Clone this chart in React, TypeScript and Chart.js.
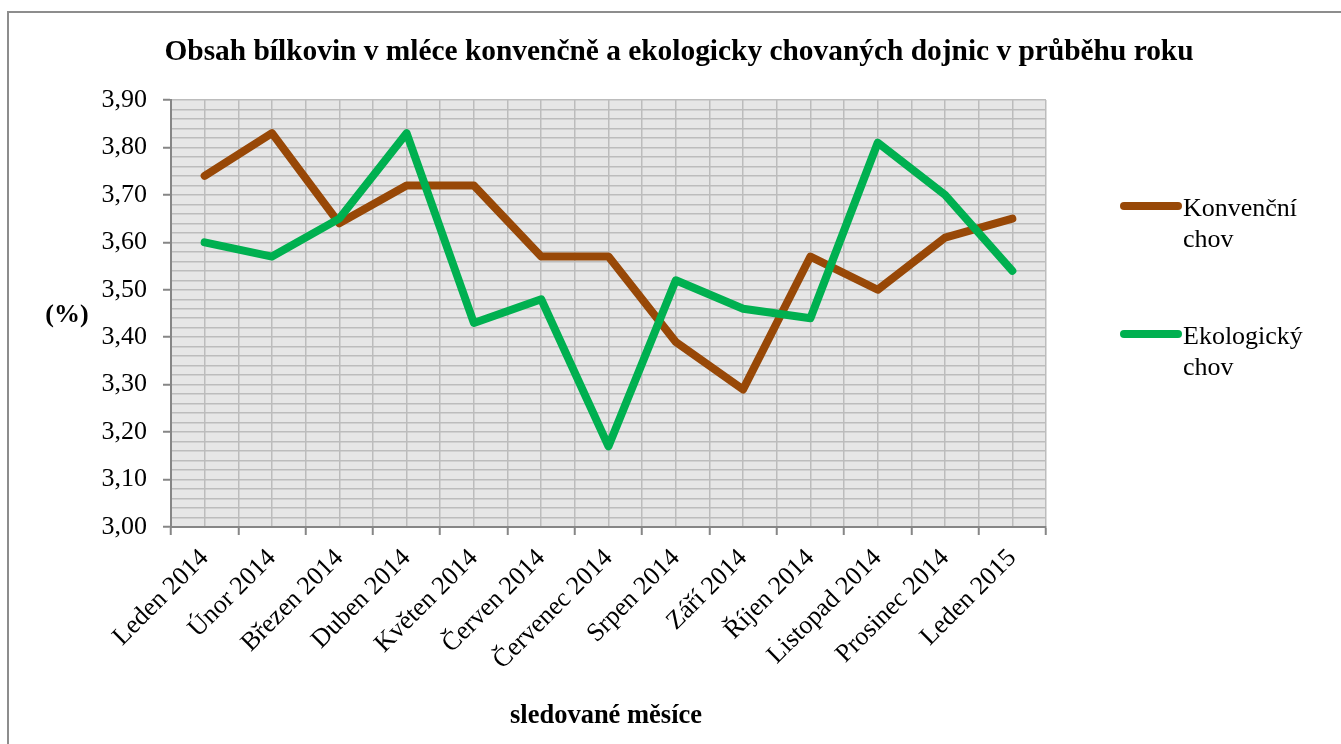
import React, { useEffect, useRef } from 'react';
import { Chart, registerables } from 'chart.js';

Chart.register(...registerables);

const TITLE = 'Obsah bílkovin v mléce konvenčně a ekologicky chovaných dojnic v průběhu roku';
const X_TITLE = 'sledované měsíce';
const Y_TITLE = '(%)';

const months = [
  'Leden 2014', 'Únor 2014', 'Březen 2014', 'Duben 2014', 'Květen 2014', 'Červen 2014',
  'Červenec 2014', 'Srpen 2014', 'Září 2014', 'Říjen 2014', 'Listopad 2014', 'Prosinec 2014', 'Leden 2015',
];
const konvencni = [3.74, 3.83, 3.64, 3.72, 3.72, 3.57, 3.57, 3.39, 3.29, 3.57, 3.5, 3.61, 3.65];
const ekologicky = [3.6, 3.57, 3.65, 3.83, 3.43, 3.48, 3.17, 3.52, 3.46, 3.44, 3.81, 3.7, 3.54];
const seriesNames = ['Konvenční chov', 'Ekologický chov'];
const seriesColors = ['#984807', '#00B050'];

const Y_MIN = 3.0;
const Y_MAX = 3.9;
const Y_MINOR_STEPS = 45; // 0,02 between minor grid lines

const FONT = '"Liberation Serif", "Times New Roman", serif';
const GRID = '#bcbcbc';
const AXIS = '#868686';
const PLOT_BG = '#e6e6e6';
const LINE_WIDTH = 8;

// grid/tick positions: half-category steps on x, 0,02 steps on y
const xTicks: number[] = [];
for (let i = 0; i <= months.length * 2; i++) xTicks.push(i / 2 - 0.5);
const yTicks: number[] = [];
for (let i = 0; i <= Y_MINOR_STEPS; i++) yTicks.push(Math.round((Y_MIN + (i * (Y_MAX - Y_MIN)) / Y_MINOR_STEPS) * 100) / 100);

const isMajorY = (v: number) => Math.abs(v * 10 - Math.round(v * 10)) < 1e-6;
const isCategory = (v: number) => Math.abs(v - Math.round(v)) < 1e-6;

const plotBackground = {
  id: 'plotBackground',
  beforeDraw(chart: any) {
    const { ctx, chartArea } = chart;
    ctx.save();
    ctx.fillStyle = PLOT_BG;
    ctx.fillRect(chartArea.left, chartArea.top, chartArea.right - chartArea.left, chartArea.bottom - chartArea.top);
    ctx.restore();
  },
};

const chartTexts = {
  id: 'chartTexts',
  afterDraw(chart: any) {
    const { ctx } = chart;
    ctx.save();
    ctx.fillStyle = '#000';
    ctx.textBaseline = 'alphabetic';
    ctx.textAlign = 'center';

    // title
    ctx.font = `bold 29.4px ${FONT}`;
    ctx.fillText(TITLE, 679, 60);

    // axis titles
    ctx.font = `bold 26.5px ${FONT}`;
    ctx.fillText(X_TITLE, 606, 723);
    ctx.font = `bold 26px ${FONT}`;
    ctx.fillText(Y_TITLE, 67, 322);

    // legend
    ctx.textAlign = 'left';
    ctx.font = `26px ${FONT}`;
    const rows = [206, 334];
    chart.data.datasets.forEach((ds: any, i: number) => {
      const y = rows[i];
      ctx.strokeStyle = ds.borderColor;
      ctx.lineWidth = LINE_WIDTH;
      ctx.lineCap = 'round';
      ctx.beginPath();
      ctx.moveTo(1124, y);
      ctx.lineTo(1178, y);
      ctx.stroke();
      const words = String(ds.label).split(' ');
      words.forEach((w: string, j: number) => ctx.fillText(w, 1183, y + 10 + j * 30.5));
    });
    ctx.restore();
  },
};

export default function App() {
  const canvasRef = useRef<HTMLCanvasElement | null>(null);

  useEffect(() => {
    const canvas = canvasRef.current;
    if (!canvas) return;
    const series = [konvencni, ekologicky];
    const chart = new Chart(canvas, {
      type: 'line',
      data: {
        datasets: series.map((values, s) => ({
          label: seriesNames[s],
          data: values.map((y, x) => ({ x, y })),
          borderColor: seriesColors[s],
          backgroundColor: seriesColors[s],
          borderWidth: LINE_WIDTH,
          borderCapStyle: 'round',
          borderJoinStyle: 'round',
          pointRadius: 0,
          tension: 0,
          fill: false,
          order: s === 0 ? 1 : 0,
        })),
      },
      options: {
        responsive: false,
        animation: false,
        devicePixelRatio: 1,
        layout: { padding: { left: 0, top: 100, right: 295, bottom: 0 } },
        plugins: {
          legend: { display: false },
          title: { display: false },
          tooltip: { enabled: false },
        },
        scales: {
          x: {
            type: 'linear',
            bounds: 'data',
            min: -0.5,
            max: 12.5,
            afterBuildTicks: (scale: any) => {
              scale.ticks = xTicks.map((value) => ({ value }));
            },
            afterFit: (scale: any) => {
              scale.height = 217;
            },
            ticks: {
              autoSkip: false,
              minRotation: 45,
              maxRotation: 45,
              padding: 8,
              color: '#000',
              font: { family: FONT, size: 26 },
              callback: (v: any) => (isCategory(Number(v)) ? months[Math.round(Number(v))] : ''),
            },
            grid: {
              color: (ctx: any) => (ctx.tick && Math.abs(ctx.tick.value + 0.5) < 1e-6 ? 'rgba(0,0,0,0)' : GRID),
              lineWidth: 1.5,
              tickLength: 8,
              tickWidth: 2,
              tickColor: (ctx: any) => (ctx.tick && isCategory(ctx.tick.value) ? 'rgba(0,0,0,0)' : AXIS),
            },
            border: { color: AXIS, width: 2 },
          },
          y: {
            type: 'linear',
            bounds: 'data',
            min: Y_MIN,
            max: Y_MAX,
            afterBuildTicks: (scale: any) => {
              scale.ticks = yTicks.map((value) => ({ value }));
            },
            afterFit: (scale: any) => {
              scale.width = 171;
            },
            ticks: {
              autoSkip: false,
              padding: 16,
              color: '#000',
              font: { family: FONT, size: 26 },
              callback: (v: any) => (isMajorY(Number(v)) ? Number(v).toFixed(2).replace('.', ',') : ''),
            },
            grid: {
              color: (ctx: any) => (ctx.tick && Math.abs(ctx.tick.value - Y_MIN) < 1e-6 ? 'rgba(0,0,0,0)' : GRID),
              lineWidth: 1.5,
              tickLength: 8,
              tickWidth: 2,
              tickColor: (ctx: any) => (ctx.tick && isMajorY(ctx.tick.value) ? AXIS : 'rgba(0,0,0,0)'),
            },
            border: { color: AXIS, width: 2 },
          },
        },
      } as any,
      plugins: [plotBackground, chartTexts],
    });
    return () => chart.destroy();
  }, []);

  return (
    <div style={{ position: 'fixed', left: 0, top: 0, width: 1341, height: 744, overflow: 'hidden', background: '#fff' }}>
      <div
        style={{
          position: 'absolute',
          left: 7,
          top: 11,
          width: 1400,
          height: 800,
          border: '2px solid #8d8d8d',
          boxSizing: 'border-box',
        }}
      />
      <canvas ref={canvasRef} width={1341} height={744} style={{ position: 'absolute', left: 0, top: 0, display: 'block' }} />
    </div>
  );
}
